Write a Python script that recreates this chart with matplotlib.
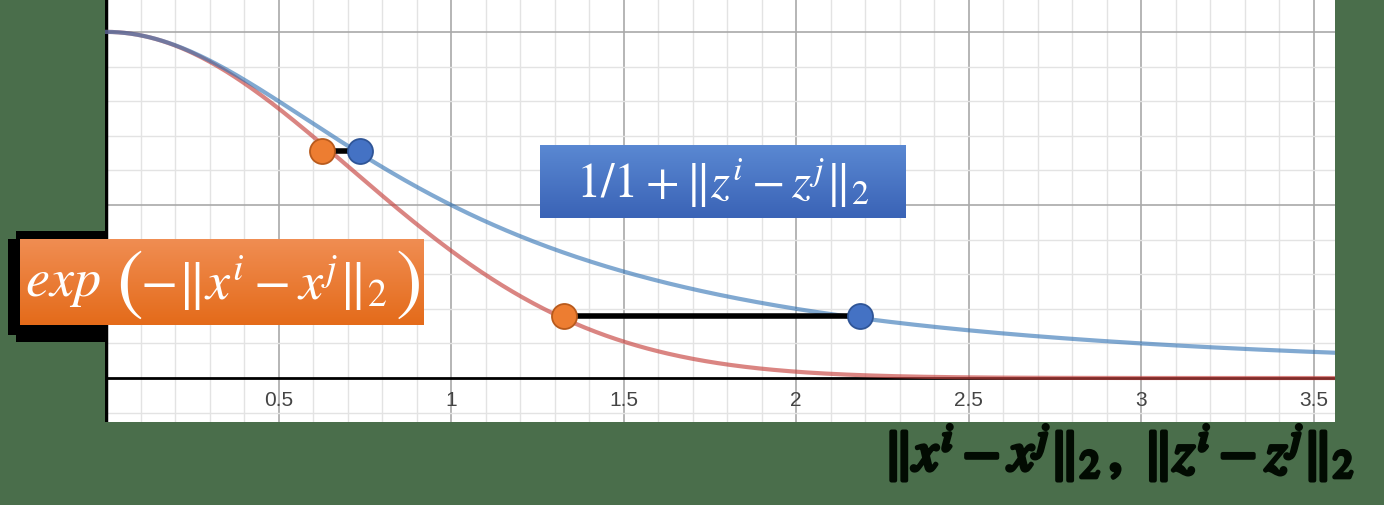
import numpy as np
import matplotlib
matplotlib.use('Agg')
import matplotlib.pyplot as plt
from matplotlib.patches import Rectangle
import matplotlib.patheffects as pe

plt.rcParams['mathtext.fontset'] = 'stix'

# Data
x_ticks = [0.5, 1, 1.5, 2, 2.5, 3, 3.5]
tick_labels = ['0.5', '1', '1.5', '2', '2.5', '3', '3.5']
x_curve = np.linspace(0, 3.6, 600)
y_exp = np.exp(-x_curve ** 2)            # exp(-||x_i - x_j||)
y_student = 1.0 / (1.0 + x_curve ** 2)   # 1/(1+||z_i - z_j||)

# pairs of points (orange on red curve, blue on blue curve)
pair_y = [0.656, 0.179]
orange_x = [0.626, 1.328]
blue_x = [0.736, 2.186]

W, H = 1384, 506
BG = '#4a6e4b'


def px_box(x0, y0, x1, y1):
    # pixel box (top-down) -> figure fraction [l, b, w, h]
    return [x0 / W, (H - y1) / H, (x1 - x0) / W, (y1 - y0) / H]


fig = plt.figure(figsize=(W / 100, H / 100), dpi=100)
fig.patch.set_facecolor(BG)

# black shadow on the left of the orange label
for (x0, y0, x1, y1) in [(16, 232, 106, 343), (8, 240, 106, 336)]:
    l, b, w, h = px_box(x0, y0, x1, y1)
    fig.patches.append(Rectangle((l, b), w, h, transform=fig.transFigure,
                                 facecolor='black', edgecolor='none', zorder=-1))

ax = fig.add_axes(px_box(105, 0, 1335, 423))
ax.set_facecolor('white')
ax.set_xlim(-0.003, 3.562)
ax.set_ylim(-0.127, 1.095)
for s in ax.spines.values():
    s.set_visible(False)
ax.set_xticks([])
ax.set_yticks([])

# grid
for gx in np.arange(0.1, 3.6, 0.1):
    major = abs(gx * 2 - round(gx * 2)) < 1e-6
    ax.axvline(gx, color='#a9a9a9' if major else '#e3e3e3', lw=1.2 if major else 1, zorder=1)
for gy in np.arange(-0.1, 1.1, 0.1):
    if abs(gy) < 1e-6:
        continue
    major = abs(gy * 2 - round(gy * 2)) < 1e-6
    ax.axhline(gy, color='#a9a9a9' if major else '#e3e3e3', lw=1.2 if major else 1, zorder=1)

ax.axhline(0, color='black', lw=2, zorder=2)
ax.axvline(0, color='black', lw=2.5, zorder=2)

for tx, tl in zip(x_ticks, tick_labels):
    ax.text(tx, -0.061, tl, ha='center', va='center', fontsize=15,
            color='#444444', family='Liberation Sans', zorder=3)

ax.plot(x_curve, y_exp, color='#c74440', lw=3, alpha=0.65, zorder=4)
ax.plot(x_curve, y_student, color='#2d70b3', lw=3, alpha=0.6, zorder=5)

for yy, xo, xb in zip(pair_y, orange_x, blue_x):
    ax.plot([xo, xb], [yy, yy], color='black', lw=4, zorder=6, solid_capstyle='butt')
    ax.plot(xo, yy, 'o', ms=18, mfc='#ed7d31', mec='#b85a1c', mew=1.3, zorder=7)
    ax.plot(xb, yy, 'o', ms=18, mfc='#4472c4', mec='#2f5597', mew=1.3, zorder=7)


def grad_box(box, top, bottom):
    bax = fig.add_axes(px_box(*box))
    c0 = np.array(matplotlib.colors.to_rgb(top))
    c1 = np.array(matplotlib.colors.to_rgb(bottom))
    t = np.linspace(0, 1, 64)[:, None, None]
    img = c0 * (1 - t) + c1 * t
    bax.imshow(img, aspect='auto', extent=[0, 1, 0, 1])
    bax.set_xlim(0, 1)
    bax.set_ylim(0, 1)
    bax.axis('off')
    return bax


bbox_blue = grad_box((540, 146, 906, 219), '#5a88d2', '#3a63b6')
bbox_blue.text(0.5, 0.5, r'$1/1 + \Vert z^i - z^j\Vert_2$', ha='center', va='center',
               color='white', fontsize=35)

bbox_orange = grad_box((20, 240, 424, 326), '#f08d52', '#e46b1a')
bbox_orange.text(0.107, 0.5, r'$exp$', ha='center', va='center', color='white', fontsize=39)
bbox_orange.text(0.27, 0.5, r'$($', ha='center', va='center', color='white', fontsize=58)
bbox_orange.text(0.603, 0.5, r'$-\Vert x^i - x^j\Vert_2$', ha='center', va='center',
                 color='white', fontsize=39)
bbox_orange.text(0.958, 0.5, r'$)$', ha='center', va='center', color='white', fontsize=58)

fig.text(1119 / W, 1 - 454 / H, r'$\Vert x^i - x^j\Vert_2\,,\ \Vert z^i - z^j\Vert_2$',
         ha='center', va='center', fontsize=40, color='#020b02',
         path_effects=[pe.withStroke(linewidth=3, foreground='#020b02')])

fig.savefig('out.png', dpi=100, facecolor=fig.get_facecolor())
